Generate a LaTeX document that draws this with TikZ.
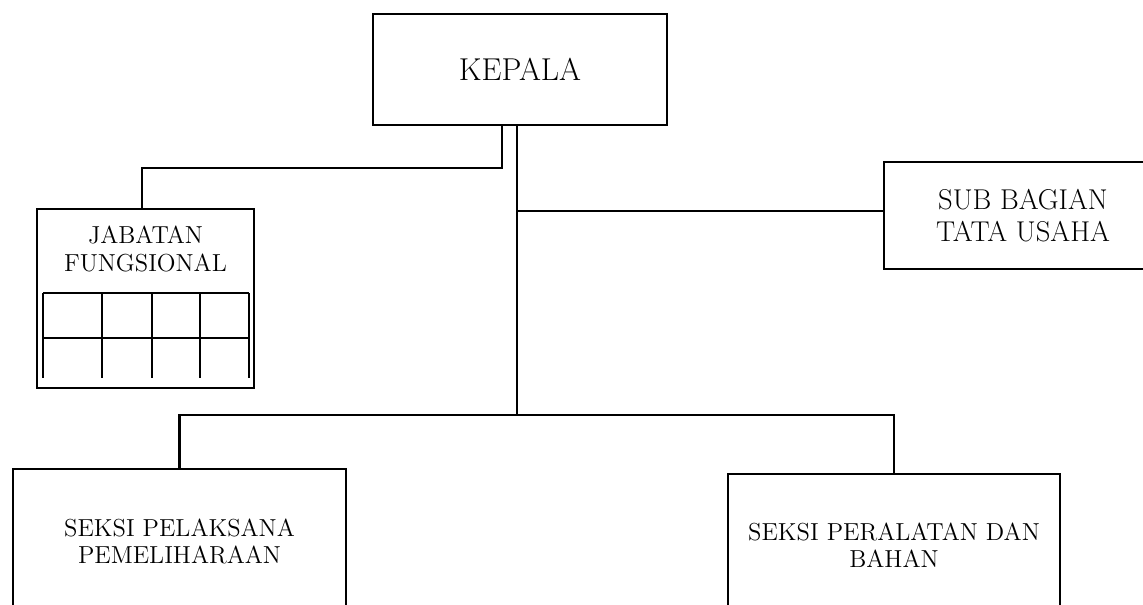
\documentclass[tikz,border=0pt]{standalone}
\usetikzlibrary{positioning}
\begin{document}
\begin{tikzpicture}[x=0.02cm, y=-0.02cm,
    box/.style={draw, line width=1.5pt, align=center, inner sep=0pt},
    conn/.style={line width=1.3pt},
    cell/.style={line width=0.6pt}]
\useasboundingbox (0,0) rectangle (1143,605);

\node (kepala) [box, minimum width=5.88cm, minimum height=2.22cm, font=\fontsize{18}{21}\selectfont] at (520,69.5) {KEPALA};
\node (sub) [box, minimum width=5.56cm, minimum height=2.14cm, font=\fontsize{16.3}{18}\selectfont] at (1023,215.5) {SUB BAGIAN\\TATA USAHA};
\node (jabatan) [box, minimum width=4.34cm, minimum height=3.58cm] at (145.5,298.5) {};
\node (jabtext) [align=center, font=\fontsize{14}{16}\selectfont] at (145.5,249) {JABATAN\\FUNGSIONAL};
\node (pelaksana) [box, minimum width=6.66cm, minimum height=2.88cm, font=\fontsize{14}{15.4}\selectfont] at (179.5,541) {SEKSI PELAKSANA\\PEMELIHARAAN};
\node (peralatan) [box, minimum width=6.64cm, minimum height=2.86cm, font=\fontsize{14}{15.4}\selectfont] at (894,545.5) {SEKSI PERALATAN DAN\\BAHAN};

\draw[cell] (43,293) -- (249,293) (43,338) -- (249,338);
\foreach \x in {43,102,152,200,249}
    \draw[cell] (\x,293) -- (\x,378);

\coordinate (split) at (517,211);
\coordinate (base) at (517,415);

\draw[conn] (kepala.south -| 502,0) |- (142,168) -- (jabatan.north -| 142,0);
\draw[conn] (kepala.south -| split) -- (base);
\draw[conn] (split) -- (sub.west |- split);
\draw[conn] (pelaksana.north) |- (base) -| (peralatan.north);
\end{tikzpicture}
\end{document}
